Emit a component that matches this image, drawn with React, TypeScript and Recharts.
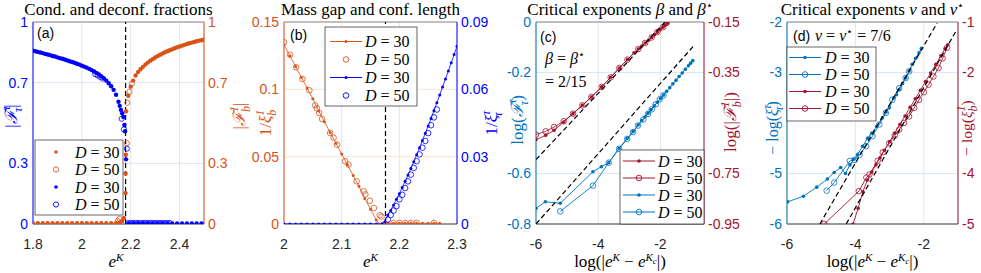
import React from 'react'
import {
  ComposedChart,
  Scatter,
  XAxis,
  YAxis,
  CartesianGrid,
  ReferenceLine
} from 'recharts'

const BLUE = '#0000ff'
const ORANGE = '#d95319'
const MBLUE = '#0072bd'
const RED = '#a2142f'
const SANS = "'Liberation Sans', Arial, sans-serif"
const SERIF = "'Liberation Serif', 'Times New Roman', serif"

type Pt = [number, number]

// (a) condensate fraction |F^tau_tau| (blue, left) and deconfined fraction |F^1_b| (orange, right)
const aTau30: Pt[] = [
  [1.8, 0.858], [1.81, 0.855], [1.82, 0.852], [1.83, 0.849], [1.84, 0.846], [1.85, 0.842],
  [1.86, 0.839], [1.87, 0.836], [1.88, 0.832], [1.89, 0.829], [1.9, 0.825], [1.91, 0.821],
  [1.92, 0.818], [1.93, 0.814], [1.94, 0.81], [1.95, 0.806], [1.96, 0.802], [1.97, 0.798],
  [1.98, 0.793], [1.99, 0.789], [2, 0.784], [2.01, 0.779], [2.02, 0.774], [2.03, 0.768],
  [2.04, 0.762], [2.05, 0.755], [2.06, 0.748], [2.07, 0.74], [2.08, 0.731], [2.09, 0.721],
  [2.1, 0.71], [2.11, 0.697], [2.12, 0.682], [2.13, 0.664], [2.14, 0.64], [2.15, 0.605],
  [2.155, 0.585], [2.16, 0.565], [2.165, 0.548], [2.17, 0.53], [2.174, 0.49], [2.177, 0.459],
  [2.181, 0.32], [2.19, 0.003], [2.21, 0.003], [2.23, 0.003], [2.25, 0.003], [2.27, 0.003],
  [2.29, 0.003], [2.31, 0.003], [2.33, 0.003], [2.35, 0.003], [2.37, 0.003], [2.39, 0.003],
  [2.41, 0.003], [2.43, 0.003], [2.45, 0.003], [2.47, 0.003], [2.49, 0.003]
]
const aTau50: Pt[] = [
  [2.055, 0.742], [2.065, 0.735], [2.075, 0.728], [2.085, 0.72], [2.163, 0.521], [2.172, 0.468],
  [2.184, 0.373], [2.19, 0.005], [2.2, 0.005], [2.21, 0.005], [2.22, 0.005], [2.23, 0.005],
  [2.24, 0.005], [2.25, 0.005], [2.26, 0.005], [2.27, 0.005], [2.28, 0.005], [2.29, 0.005],
  [2.3, 0.005], [2.31, 0.005], [2.32, 0.005], [2.33, 0.005], [2.34, 0.005], [2.35, 0.005], [2.36, 0.005]
]
const aB30: Pt[] = [
  [1.8, 0.004], [1.82, 0.004], [1.84, 0.004], [1.86, 0.004], [1.88, 0.004], [1.9, 0.004],
  [1.92, 0.004], [1.94, 0.004], [1.96, 0.004], [1.98, 0.004], [2, 0.004], [2.02, 0.004],
  [2.04, 0.004], [2.06, 0.004], [2.08, 0.004], [2.1, 0.004], [2.12, 0.004], [2.14, 0.004],
  [2.155, 0.008], [2.165, 0.015], [2.172, 0.03], [2.179, 0.153], [2.179, 0.25], [2.18, 0.343],
  [2.181, 0.558], [2.19, 0.635], [2.2, 0.68], [2.21, 0.71], [2.22, 0.735], [2.23, 0.752],
  [2.24, 0.766], [2.25, 0.778], [2.26, 0.789], [2.27, 0.799], [2.28, 0.808], [2.29, 0.816],
  [2.3, 0.824], [2.31, 0.831], [2.32, 0.838], [2.33, 0.844], [2.34, 0.85], [2.35, 0.855],
  [2.36, 0.86], [2.37, 0.865], [2.38, 0.87], [2.39, 0.875], [2.4, 0.879], [2.41, 0.883],
  [2.42, 0.887], [2.43, 0.891], [2.44, 0.895], [2.45, 0.898], [2.46, 0.901], [2.47, 0.905],
  [2.48, 0.908], [2.49, 0.91], [2.5, 0.913]
]
const aB50: Pt[] = [
  [2.147, 0.015], [2.154, 0.025], [2.184, 0.4], [2.186, 0.6], [2.195, 0.655], [2.205, 0.695]
]

// (b) inverse lengths: 1/xi^1_b (orange, left) and 1/xi^tau_tau (blue, right)
const bB30: Pt[] = [
  [2, 0.133], [2.01, 0.125], [2.02, 0.117], [2.03, 0.109], [2.04, 0.101], [2.05, 0.093],
  [2.06, 0.084], [2.07, 0.076], [2.08, 0.068], [2.09, 0.06], [2.1, 0.052], [2.11, 0.044],
  [2.12, 0.036], [2.13, 0.028], [2.14, 0.019], [2.15, 0.011], [2.16, 0.003], [2.165, 0],
  [2.17, 0.0005], [2.18, 0.0005], [2.19, 0.0005], [2.2, 0.0005], [2.21, 0.0005], [2.22, 0.0005],
  [2.23, 0.0005], [2.24, 0.0005], [2.25, 0.0005], [2.26, 0.0005], [2.27, 0.0005]
]
const bB50: Pt[] = [
  [2, 0.135], [2.0104, 0.1257], [2.021, 0.1164], [2.032, 0.1077], [2.044, 0.0993], [2.054, 0.0881],
  [2.057, 0.086], [2.061, 0.0824], [2.066, 0.078], [2.08, 0.0676], [2.086, 0.064], [2.092, 0.0589],
  [2.106, 0.0466], [2.112, 0.0441], [2.126, 0.0317], [2.138, 0.0243], [2.141, 0.022], [2.149, 0.0173],
  [2.156, 0.0119], [2.166, 0.0065], [2.169, 0.0055], [2.19, 0.0008], [2.2, 0.0008], [2.21, 0.0008],
  [2.22, 0.0008], [2.23, 0.0008], [2.26, 0.0008]
]
const bT30: Pt[] = [
  [2, 0], [2.01, 0], [2.02, 0], [2.03, 0], [2.04, 0], [2.05, 0], [2.06, 0], [2.07, 0], [2.08, 0],
  [2.09, 0], [2.1, 0], [2.11, 0], [2.12, 0], [2.13, 0], [2.14, 0], [2.15, 0], [2.16, 0], [2.17, 0],
  [2.175, 0.001], [2.18, 0.004], [2.185, 0.006], [2.19, 0.0085], [2.195, 0.011], [2.2, 0.0135],
  [2.205, 0.0163], [2.21, 0.019], [2.215, 0.0218], [2.22, 0.0247], [2.225, 0.0277], [2.23, 0.0308],
  [2.235, 0.034], [2.24, 0.0372], [2.245, 0.0404], [2.25, 0.0437], [2.255, 0.047], [2.26, 0.0505],
  [2.265, 0.054], [2.27, 0.0575], [2.275, 0.061], [2.28, 0.0646], [2.285, 0.0682], [2.29, 0.0718],
  [2.295, 0.0755], [2.3, 0.0792]
]
const bT50: Pt[] = [
  [2.18, 0.002], [2.185, 0.004], [2.19, 0.006], [2.195, 0.008], [2.2, 0.011], [2.205, 0.013],
  [2.21, 0.016], [2.215, 0.019], [2.22, 0.022], [2.225, 0.025], [2.23, 0.028], [2.235, 0.031],
  [2.24, 0.034], [2.245, 0.037], [2.25, 0.0405], [2.255, 0.044], [2.26, 0.0475], [2.265, 0.051]
]

// (c) log of the fractions vs log|e^K - e^Kc|
const cTau30: Pt[] = [
  [-6, -0.738], [-5.7, -0.712], [-5.22, -0.718], [-4.17, -0.593], [-3.9, -0.573], [-3.66, -0.557],
  [-3.33, -0.5], [-3.07, -0.461], [-2.88, -0.434], [-2.72, -0.408], [-2.6, -0.39], [-2.5, -0.376],
  [-2.4, -0.361], [-2.3, -0.347], [-2.2, -0.332], [-2.1, -0.318], [-2, -0.303], [-1.9, -0.289],
  [-1.8, -0.274], [-1.7, -0.26], [-1.6, -0.245], [-1.5, -0.231], [-1.4, -0.216], [-1.3, -0.202],
  [-1.2, -0.187], [-1.1, -0.173], [-1.03, -0.163], [-0.96, -0.153]
]
const cTau50: Pt[] = [
  [-5.22, -0.75], [-4.17, -0.648], [-3.66, -0.557], [-3.33, -0.502], [-3.07, -0.463], [-2.88, -0.436],
  [-2.72, -0.41], [-2.55, -0.386], [-2.4, -0.364], [-2.28, -0.346], [-2.15, -0.326], [-2.02, -0.306],
  [-1.9, -0.29]
]
const cB30: Pt[] = [
  [-6, -0.616], [-5.69, -0.599], [-5.42, -0.579], [-5.11, -0.546], [-4.81, -0.513], [-4.51, -0.48],
  [-4.22, -0.447], [-3.89, -0.407], [-3.6, -0.369], [-3.32, -0.332], [-3.06, -0.299], [-2.85, -0.272],
  [-2.71, -0.257], [-2.6, -0.245], [-2.49, -0.233], [-2.38, -0.222], [-2.28, -0.211], [-2.19, -0.2],
  [-2.1, -0.19], [-2.01, -0.18], [-1.92, -0.171], [-1.85, -0.163], [-1.78, -0.155]
]
const cB50: Pt[] = [
  [-6, -0.596], [-5.69, -0.583], [-5.42, -0.566], [-5.11, -0.543], [-4.81, -0.513], [-4.51, -0.48],
  [-4.22, -0.447], [-3.89, -0.407], [-3.6, -0.369], [-3.32, -0.332], [-3.06, -0.299], [-2.71, -0.257],
  [-2.49, -0.233], [-2.28, -0.211], [-2.1, -0.19], [-1.92, -0.171], [-1.8, -0.154]
]
const cFitTau: Pt[] = [[-6, -0.8], [-0.9, -0.09]]
const cFitB: Pt[] = [[-6, -0.695], [-1.85, -0.15]]

// (d) -log of the lengths vs log|e^K - e^Kc|
const dTau30: Pt[] = [
  [-5.98, -5.56], [-5.52, -5.45], [-5.13, -5.27], [-4.82, -5.11], [-4.62, -4.98], [-4.43, -4.88],
  [-4.29, -5], [-4.16, -4.83], [-4.05, -4.72], [-3.94, -4.63], [-3.79, -4.46], [-3.64, -4.3],
  [-3.52, -4.2], [-3.38, -4.07], [-3.21, -3.9], [-3.1, -3.78], [-3.01, -3.7], [-2.87, -3.5],
  [-2.8, -3.44], [-2.72, -3.34], [-2.62, -3.22], [-2.53, -3.11], [-2.43, -2.97], [-2.34, -2.84],
  [-2.24, -2.72], [-2.14, -2.61], [-2.07, -2.52]
]
const dTau50: Pt[] = [
  [-4.84, -5.34], [-4.62, -5.18], [-4.16, -4.75], [-4.02, -4.73], [-3.88, -4.63], [-3.69, -4.46],
  [-3.5, -4.26], [-3.3, -4.03], [-3.11, -3.8], [-2.92, -3.54], [-2.72, -3.31], [-2.53, -3.11],
  [-2.43, -2.98]
]
const dB30: Pt[] = [
  [-4.07, -5], [-3.92, -4.69], [-3.78, -4.36], [-3.65, -4.13], [-3.52, -3.97], [-3.4, -3.83],
  [-3.28, -3.69], [-3.15, -3.54], [-3, -3.37], [-2.85, -3.2], [-2.7, -3.03], [-2.55, -2.86],
  [-2.4, -2.69], [-2.25, -2.52], [-2.1, -2.35], [-1.95, -2.18], [-1.8, -2.01], [-1.65, -1.84],
  [-1.5, -1.67], [-1.38, -1.53], [-1.3, -1.45]
]
const dB50: Pt[] = [
  [-4.91, -5], [-3.9, -4.35], [-3.68, -4.08], [-3.59, -4.02], [-3.35, -3.75], [-3.2, -3.58],
  [-3.01, -3.4], [-2.85, -3.25], [-2.72, -3.13], [-2.58, -3], [-2.43, -2.87], [-2.28, -2.7],
  [-2.14, -2.54], [-2, -2.39], [-1.86, -2.24], [-1.72, -2.08], [-1.57, -1.91], [-1.45, -1.72],
  [-1.32, -1.51]
]
const dFitTau: Pt[] = [[-5.04, -6], [-1.61, -2.02]]
const dFitB: Pt[] = [[-4.27, -5], [-1.06, -1.18]]

const pts = (d: Pt[]) => d.map(([x, y]) => ({ x, y }))

const dot = (c: string, r: number) => (p: any) =>
  <circle cx={p.cx} cy={p.cy} r={r} fill={c} />
const ring = (c: string, r: number, w = 0.8) => (p: any) =>
  <circle cx={p.cx} cy={p.cy} r={r} fill='none' stroke={c} strokeWidth={w} />
const noMark = () => <g />

interface Side {
  domain: [number, number]
  ticks: number[]
  color: string
}

interface PanelProps {
  plotLeft: number
  plotRight: number
  rightW?: number
  xDomain: [number, number]
  xTicks: number[]
  left: Side
  right: Side
  hGrid: string
  kc?: number
  children: React.ReactNode
}

const Panel = ({ plotLeft, plotRight, rightW = 50, xDomain, xTicks, left, right, hGrid, kc, children }: PanelProps) => {
  const lw = 50
  const yAxisProps = (s: Side) => ({
    dataKey: 'y',
    type: 'number' as const,
    domain: s.domain,
    ticks: s.ticks,
    interval: 0,
    allowDataOverflow: true,
    tickSize: 0,
    tickLine: false,
    axisLine: { stroke: s.color },
    tick: { fill: s.color, fontSize: 14, fontFamily: SANS }
  })
  return (
    <div style={{ position: 'absolute', left: plotLeft - lw, top: 0 }}>
      <ComposedChart
        width={plotRight - plotLeft + lw + rightW}
        height={273}
        margin={{ top: 22, right: 0, bottom: 0, left: 0 }}
      >
        <CartesianGrid yAxisId='L' horizontal={false} stroke='#e6e6e6' />
        <CartesianGrid yAxisId='L' vertical={false} stroke={hGrid} />
        <XAxis
          dataKey='x'
          type='number'
          domain={xDomain}
          ticks={xTicks}
          interval={0}
          allowDataOverflow
          height={49}
          tickSize={0}
          tickMargin={15}
          tickLine={false}
          axisLine={{ stroke: '#404040' }}
          tick={{ fill: '#262626', fontSize: 14, fontFamily: SANS }}
        />
        <YAxis yAxisId='L' width={lw} tickMargin={5} {...yAxisProps(left)} />
        <YAxis yAxisId='R' orientation='right' width={rightW} tickMargin={4} {...yAxisProps(right)} />
        <ReferenceLine yAxisId='L' y={left.domain[1]} stroke='#8c8c8c' />
        {kc !== undefined && (
          <ReferenceLine yAxisId='L' x={kc} stroke='#000' strokeWidth={1.2} strokeDasharray='5 3' />
        )}
        {children}
      </ComposedChart>
    </div>
  )
}

type Seg = { t: string; it?: boolean; lv?: number; fs?: number; dx?: number }

const MathText = ({ x, y, segs, size = 17, color = '#000', rotate = false, anchor = 'middle', font = SERIF }: {
  x: number; y: number; segs: Seg[]; size?: number; color?: string; rotate?: boolean
  anchor?: 'start' | 'middle' | 'end'; font?: string
}) => {
  let cur = 0
  return (
    <text
      x={rotate ? 0 : x}
      y={rotate ? 0 : y}
      transform={rotate ? `translate(${x},${y}) rotate(-90)` : undefined}
      textAnchor={anchor}
      fontFamily={font}
      fontSize={size}
      fill={color}
    >
      {segs.map((s, i) => {
        const lv = s.lv ?? 0
        const dy = lv - cur
        cur = lv
        return (
          <tspan key={i} dy={dy || undefined} dx={s.dx} fontStyle={s.it ? 'italic' : 'normal'} fontSize={s.fs}>
            {s.t}
          </tspan>
        )
      })}
    </text>
  )
}

const supSub = (base: string, sup: string, sub: string): Seg[] => [
  { t: base, it: true },
  { t: sup, it: true, lv: -7, fs: 12 },
  { t: sub, it: true, lv: 5, fs: 12, dx: -6 }
]
const eK: Seg[] = [{ t: 'e', it: true }, { t: 'K', it: true, lv: -6, fs: 11 }]
const logX: Seg[] = [
  { t: 'log(|' }, ...eK, { t: ' − ' }, ...eK, { t: 'c', it: true, lv: -3, fs: 9 }, { t: '|)' }
]
const star = (g: string): Seg[] => [{ t: g, it: true }, { t: '⋆', lv: -6, fs: 11 }]

interface KeyItem { y: number; color: string; d: string; hollow?: boolean; line?: boolean; r: number }

const KeyBox = ({ x, y, w, h, mx, half, tx, items }: {
  x: number; y: number; w: number; h: number; mx: number; half: number; tx: number; items: KeyItem[]
}) => (
  <g>
    <rect x={x} y={y} width={w} height={h} fill='#fff' stroke='#262626' strokeWidth={0.7} />
    {items.map((it, i) => (
      <g key={i}>
        {it.line && <line x1={mx - half} x2={mx + half} y1={it.y} y2={it.y} stroke={it.color} strokeWidth={1} />}
        <circle
          cx={mx}
          cy={it.y}
          r={it.r}
          fill={it.hollow ? 'none' : it.color}
          stroke={it.hollow ? it.color : 'none'}
          strokeWidth={0.9}
        />
        <MathText x={tx} y={it.y + 5.5} anchor='start' size={16} segs={[{ t: 'D', it: true }, { t: ' = ' + it.d }]} />
      </g>
    ))}
  </g>
)

const App = () => {
  return (
    <div style={{ position: 'absolute', left: 0, top: 0, width: 981, height: 273, overflow: 'hidden', background: '#fff' }}>
      <Panel
        plotLeft={33}
        plotRight={204}
        xDomain={[1.8, 2.5]}
        xTicks={[1.8, 2, 2.2, 2.4]}
        left={{ domain: [0, 1], ticks: [0, 0.3, 0.7, 1], color: BLUE }}
        right={{ domain: [0, 1], ticks: [0, 0.3, 0.7, 1], color: ORANGE }}
        hGrid='#dfe3fb'
        kc={2.179}
      >
        <Scatter yAxisId='R' data={pts(aB30)} fill={ORANGE} shape={dot(ORANGE, 2.2)} isAnimationActive={false} />
        <Scatter yAxisId='R' data={pts(aB50)} fill={ORANGE} shape={ring(ORANGE, 2.6)} isAnimationActive={false} />
        <Scatter yAxisId='L' data={pts(aTau30)} fill={BLUE} shape={dot(BLUE, 2.2)} isAnimationActive={false} />
        <Scatter yAxisId='L' data={pts(aTau50)} fill={BLUE} shape={ring(BLUE, 2.6)} isAnimationActive={false} />
      </Panel>

      <Panel
        plotLeft={284}
        plotRight={457}
        xDomain={[2, 2.3]}
        xTicks={[2, 2.1, 2.2, 2.3]}
        left={{ domain: [0, 0.15], ticks: [0, 0.05, 0.1, 0.15], color: ORANGE }}
        right={{ domain: [0, 0.09], ticks: [0, 0.03, 0.06, 0.09], color: BLUE }}
        hGrid='#f8e2da'
        kc={2.176}
      >
        <Scatter yAxisId='L' data={pts(bB30)} fill={ORANGE} shape={dot(ORANGE, 1.5)}
          line={{ stroke: ORANGE, strokeWidth: 0.8 }} lineType='joint' isAnimationActive={false} />
        <Scatter yAxisId='L' data={pts(bB50)} fill={ORANGE} shape={ring(ORANGE, 2.8)} isAnimationActive={false} />
        <Scatter yAxisId='R' data={pts(bT30)} fill={BLUE} shape={dot(BLUE, 1.5)}
          line={{ stroke: BLUE, strokeWidth: 0.8 }} lineType='joint' isAnimationActive={false} />
        <Scatter yAxisId='R' data={pts(bT50)} fill={BLUE} shape={ring(BLUE, 2.8)} isAnimationActive={false} />
      </Panel>

      <Panel
        plotLeft={536}
        plotRight={704}
        xDomain={[-6, -0.6]}
        xTicks={[-6, -4, -2]}
        left={{ domain: [-0.8, 0], ticks: [-0.8, -0.6, -0.2, 0], color: MBLUE }}
        right={{ domain: [-0.95, -0.15], ticks: [-0.95, -0.75, -0.35, -0.15], color: RED }}
        hGrid='#d9e8f4'
      >
        <Scatter yAxisId='R' data={pts(cB30)} fill={RED} shape={dot(RED, 1.8)}
          line={{ stroke: RED, strokeWidth: 0.9 }} lineType='joint' isAnimationActive={false} />
        <Scatter yAxisId='R' data={pts(cB50)} fill={RED} shape={ring(RED, 2.8)}
          line={{ stroke: RED, strokeWidth: 0.9 }} lineType='joint' isAnimationActive={false} />
        <Scatter yAxisId='L' data={pts(cTau30)} fill={MBLUE} shape={dot(MBLUE, 1.8)}
          line={{ stroke: MBLUE, strokeWidth: 0.9 }} lineType='joint' isAnimationActive={false} />
        <Scatter yAxisId='L' data={pts(cTau50)} fill={MBLUE} shape={ring(MBLUE, 2.8)}
          line={{ stroke: MBLUE, strokeWidth: 0.9 }} lineType='joint' isAnimationActive={false} />
        <Scatter yAxisId='L' data={pts(cFitTau)} shape={noMark}
          line={{ stroke: '#000', strokeWidth: 1.2, strokeDasharray: '5 3' }} lineType='joint' isAnimationActive={false} />
        <Scatter yAxisId='R' data={pts(cFitB)} shape={noMark}
          line={{ stroke: '#000', strokeWidth: 1.2, strokeDasharray: '5 3' }} lineType='joint' isAnimationActive={false} />
      </Panel>

      <Panel
        plotLeft={787}
        plotRight={958}
        rightW={23}
        xDomain={[-6, -1]}
        xTicks={[-6, -4, -2]}
        left={{ domain: [-6, -2], ticks: [-6, -5, -3, -2], color: MBLUE }}
        right={{ domain: [-5, -1], ticks: [-5, -4, -2, -1], color: RED }}
        hGrid='#d9e8f4'
      >
        <Scatter yAxisId='L' data={pts(dTau30)} fill={MBLUE} shape={dot(MBLUE, 1.8)}
          line={{ stroke: MBLUE, strokeWidth: 0.9 }} lineType='joint' isAnimationActive={false} />
        <Scatter yAxisId='L' data={pts(dTau50)} fill={MBLUE} shape={ring(MBLUE, 2.8)}
          line={{ stroke: MBLUE, strokeWidth: 0.9 }} lineType='joint' isAnimationActive={false} />
        <Scatter yAxisId='R' data={pts(dB30)} fill={RED} shape={dot(RED, 1.8)}
          line={{ stroke: RED, strokeWidth: 0.9 }} lineType='joint' isAnimationActive={false} />
        <Scatter yAxisId='R' data={pts(dB50)} fill={RED} shape={ring(RED, 2.8)}
          line={{ stroke: RED, strokeWidth: 0.9 }} lineType='joint' isAnimationActive={false} />
        <Scatter yAxisId='L' data={pts(dFitTau)} shape={noMark}
          line={{ stroke: '#000', strokeWidth: 1.2, strokeDasharray: '5 3' }} lineType='joint' isAnimationActive={false} />
        <Scatter yAxisId='R' data={pts(dFitB)} shape={noMark}
          line={{ stroke: '#000', strokeWidth: 1.2, strokeDasharray: '5 3' }} lineType='joint' isAnimationActive={false} />
      </Panel>

      <svg width={981} height={273} style={{ position: 'absolute', left: 0, top: 0, pointerEvents: 'none' }}>
        {/* titles */}
        <MathText x={118.5} y={15.2} segs={[{ t: 'Cond. and deconf. fractions' }]} />
        <MathText x={370.5} y={15.2} segs={[{ t: 'Mass gap and conf. length' }]} />
        <MathText x={620} y={15.2} segs={[{ t: 'Critical exponents ' }, ...star('β').slice(0, 1), { t: ' and ' }, ...star('β')]} />
        <MathText x={872.5} y={15.2} segs={[{ t: 'Critical exponents ' }, { t: 'ν', it: true }, { t: ' and ' }, ...star('ν')]} />

        {/* x labels */}
        <MathText x={116} y={267} segs={eK} />
        <MathText x={370.5} y={267} segs={eK} />
        <MathText x={620} y={267} segs={logX} />
        <MathText x={872.5} y={267} segs={logX} />

        {/* y labels */}
        <MathText x={17} y={116} rotate color={BLUE} segs={[{ t: '|' }, ...supSub('ℱ', 'τ', 'τ'), { t: '|' }]} />
        <MathText x={245} y={116} rotate color={ORANGE} segs={[{ t: '|' }, ...supSub('ℱ', '1', 'b'), { t: '|' }]} />
        <MathText x={271} y={123} rotate color={ORANGE} segs={[{ t: '1/' }, ...supSub('ξ', '1', 'b')]} />
        <MathText x={497} y={123} rotate color={BLUE} segs={[{ t: '1/' }, ...supSub('ξ', 'τ', 'τ')]} />
        <MathText x={523} y={120} rotate color={MBLUE} segs={[{ t: 'log(' }, ...supSub('ℱ', 'τ', 'τ'), { t: ')' }]} />
        <MathText x={736} y={122} rotate color={RED} segs={[{ t: 'log(|' }, ...supSub('ℱ', '1', 'b'), { t: '|)' }]} />
        <MathText x={778} y={128} rotate size={16} color={MBLUE} segs={[{ t: '− log(' }, ...supSub('ξ', 'τ', 'τ'), { t: ')' }]} />
        <MathText x={972} y={128} rotate size={15.5} color={RED} segs={[{ t: '− log(' }, ...supSub('ξ', '1', 'b'), { t: ')' }]} />

        {/* panel tags and exponents */}
        <MathText x={37} y={38} anchor='start' size={14} font={SANS} segs={[{ t: '(a)' }]} />
        <MathText x={290} y={40} anchor='start' size={14} font={SANS} segs={[{ t: '(b)' }]} />
        <MathText x={540} y={42} anchor='start' size={14} font={SANS} segs={[{ t: '(c)' }]} />
        <MathText x={545} y={64} anchor='start' size={16} segs={[...star('β').slice(0, 1), { t: ' = ' }, ...star('β')]} />
        <MathText x={545} y={87} anchor='start' size={16} segs={[{ t: '= 2/15' }]} />
        <MathText x={793} y={41} anchor='start' size={14} font={SANS} segs={[{ t: '(d)' }]} />
        <MathText x={815} y={41} anchor='start' size={16} segs={[{ t: 'ν', it: true }, { t: ' = ' }, ...star('ν'), { t: ' = 7/6', lv: 0 }]} />

        {/* legends */}
        <KeyBox x={35} y={140} w={88} h={75} mx={56} half={0} tx={75} items={[
          { y: 152, color: ORANGE, d: '30', r: 1.8 },
          { y: 169.5, color: ORANGE, d: '50', hollow: true, r: 2.6 },
          { y: 187, color: BLUE, d: '30', r: 1.8 },
          { y: 204.5, color: BLUE, d: '50', hollow: true, r: 2.6 }
        ]} />
        <KeyBox x={325} y={27} w={92} h={79} mx={346} half={16} tx={365} items={[
          { y: 41.5, color: ORANGE, d: '30', line: true, r: 1.5 },
          { y: 59.5, color: ORANGE, d: '50', hollow: true, r: 2.8 },
          { y: 77.5, color: BLUE, d: '30', line: true, r: 1.5 },
          { y: 95.5, color: BLUE, d: '50', hollow: true, r: 2.8 }
        ]} />
        <KeyBox x={620} y={150} w={84} h={74} mx={639} half={16} tx={658} items={[
          { y: 161, color: RED, d: '30', line: true, r: 1.8 },
          { y: 178, color: RED, d: '50', line: true, hollow: true, r: 2.8 },
          { y: 195, color: MBLUE, d: '30', line: true, r: 1.8 },
          { y: 212, color: MBLUE, d: '50', line: true, hollow: true, r: 2.8 }
        ]} />
        <KeyBox x={787} y={47} w={89} h={74} mx={805} half={16} tx={825} items={[
          { y: 57.5, color: MBLUE, d: '30', line: true, r: 1.8 },
          { y: 74.5, color: MBLUE, d: '50', line: true, hollow: true, r: 2.8 },
          { y: 91.5, color: RED, d: '30', line: true, r: 1.8 },
          { y: 108.5, color: RED, d: '50', line: true, hollow: true, r: 2.8 }
        ]} />
      </svg>
    </div>
  )
}

export default App
